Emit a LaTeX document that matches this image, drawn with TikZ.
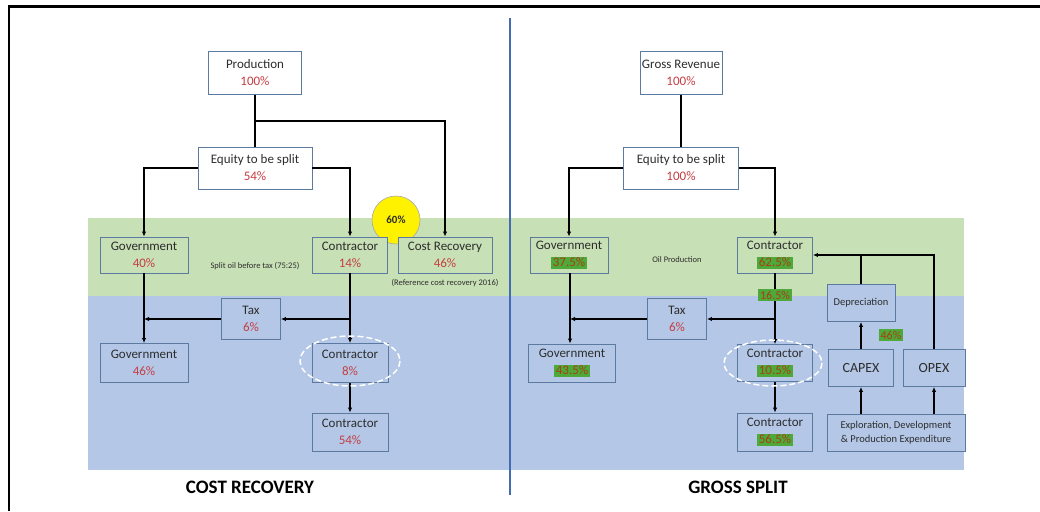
\documentclass[tikz,border=0pt]{standalone}
\usepackage{fontspec}
\setmainfont{Carlito}
\usetikzlibrary{arrows.meta}
\definecolor{BandGreen}{RGB}{200,224,182}
\definecolor{BandBlue}{RGB}{180,199,231}
\definecolor{BoxLine}{RGB}{92,122,160}
\definecolor{PctRed}{RGB}{196,62,66}
\definecolor{HlGreen}{RGB}{78,168,58}
\definecolor{HlText}{RGB}{168,64,18}
\definecolor{Divider}{RGB}{68,108,180}
\definecolor{TextGray}{RGB}{45,45,45}
\newcommand{\Pct}[1]{\textcolor{PctRed}{#1}}
\newcommand{\HlPct}[1]{{\setlength{\fboxsep}{1.5pt}\colorbox{HlGreen}{\textcolor{HlText}{#1}}}}

\begin{document}
\begin{tikzpicture}[x=1pt,y=-1pt,
  box/.style={draw=BoxLine, line width=0.9pt, align=center, inner sep=1pt,
    text=TextGray, font=\fontsize{13}{17}\selectfont},
  topbox/.style={box, fill=white},
  gbox/.style={box, fill=BandGreen},
  bbox/.style={box, fill=BandBlue},
  note/.style={text=TextGray, font=\fontsize{8.5}{10}\selectfont},
  title/.style={text=black, font=\fontsize{19}{22}\selectfont\bfseries},
  hlval/.style={fill=HlGreen, text=HlText, inner sep=2pt, font=\fontsize{12}{14}\selectfont},
  line/.style={line width=1.2pt},
  link/.style={line, -{Latex[length=5pt,width=4.5pt]}}]
  \useasboundingbox (0,0) rectangle (1040,511);
  % bands
  \fill [BandGreen] (88,218) rectangle (964,296);
  \fill [BandBlue] (88,296) rectangle (964,470);
  % frame and divider
  \draw [line width=2.5pt] (9,511) -- (9,6.5) -- (1040,6.5);
  \draw [Divider, line width=1.6pt] (510,18) -- (510,495);
  % 60% mark
  \filldraw [fill=yellow, draw=gray!70, line width=0.6pt] (396,220) circle(24);
  \node [font=\fontsize{11}{13}\selectfont\bfseries, text=TextGray] (markL) at (396,220) {60\%};
  %
  % cost recovery
  \node [topbox, minimum width=93, minimum height=43] (prodL) at (255,73) {Production\\\Pct{100\%}};
  \node [topbox, minimum width=114, minimum height=42] (eqL) at (255,168) {Equity to be split\\\Pct{54\%}};
  \node [gbox, minimum width=88, minimum height=36] (govL1) at (144,255) {Government\\\Pct{40\%}};
  \node [gbox, minimum width=75, minimum height=36] (conL1) at (350,255) {Contractor\\\Pct{14\%}};
  \node [gbox, minimum width=94, minimum height=36] (crL) at (445,255) {Cost Recovery\\\Pct{46\%}};
  \node [bbox, minimum width=59, minimum height=41] (taxL) at (251,319) {Tax\\\Pct{6\%}};
  \node [bbox, minimum width=88, minimum height=39] (govL2) at (144,363) {Government\\\Pct{46\%}};
  \node [bbox, minimum width=76, minimum height=39] (conL2) at (350,363) {Contractor\\\Pct{8\%}};
  \node [bbox, minimum width=76, minimum height=38] (conL3) at (350,432) {Contractor\\\Pct{54\%}};
  \node [note] (splitL) at (255,266) {Split oil before tax (75:25)};
  \node [note] (refL) at (445,283) {(Reference cost recovery 2016)};
  \node [title] (titleL) at (250,487) {COST RECOVERY};
  \coordinate (jL) at (255,121);
  \coordinate (tL) at (350,319);
  \coordinate (tgL) at (144,319);
  \draw [line] (prodL.south) -- (eqL.north);
  \draw [link] (jL) -| (crL.north);
  \draw [link] (eqL.west) -| (govL1.north);
  \draw [link] (eqL.east) -| (conL1.north);
  \draw [link] (govL1) -- (govL2);
  \draw [link] (conL1) -- (conL2);
  \draw [link] (conL2) -- (conL3);
  \draw [link] (tL) -- (taxL.east);
  \draw [link] (taxL.west) -- (tgL);
  \draw [white, dashed, dash pattern=on 6pt off 3pt, line width=1.5pt] (350,361) ellipse [x radius=50, y radius=25];
  %
  % gross split
  \node [topbox, minimum width=82, minimum height=43] (grossR) at (681,73) {Gross Revenue\\\Pct{100\%}};
  \node [topbox, minimum width=115, minimum height=42] (eqR) at (681,168) {Equity to be split\\\Pct{100\%}};
  \node [gbox, minimum width=78, minimum height=36] (govR1) at (569,255) {Government\\\HlPct{37.5\%}};
  \node [gbox, minimum width=75, minimum height=36] (conR1) at (775,255) {Contractor\\\HlPct{62.5\%}};
  \node [bbox, minimum width=59, minimum height=41] (taxR) at (677,319) {Tax\\\Pct{6\%}};
  \node [bbox, minimum width=87, minimum height=38] (govR2) at (572,363) {Government\\\HlPct{43.5\%}};
  \node [bbox, minimum width=75, minimum height=37] (conR2) at (775,363) {Contractor\\\HlPct{10.5\%}};
  \node [bbox, minimum width=75, minimum height=38] (conR3) at (775,432) {Contractor\\\HlPct{56.5\%}};
  \node [bbox, minimum width=68, minimum height=37, font=\fontsize{10.5}{13}\selectfont] (depR) at (861,303) {Depreciation};
  \node [bbox, minimum width=65, minimum height=37, font=\fontsize{14}{17}\selectfont] (capexR) at (861,368) {CAPEX};
  \node [bbox, minimum width=62, minimum height=37, font=\fontsize{14}{17}\selectfont] (opexR) at (934,368) {OPEX};
  \node [bbox, minimum width=138, minimum height=37, font=\fontsize{10.5}{14}\selectfont] (explR) at (896,433) {Exploration, Development\\\& Production Expenditure};
  \node [note] (oilR) at (677,260) {Oil Production};
  \node [title] (titleR) at (738,487) {GROSS SPLIT};
  \coordinate (tR) at (775,319);
  \coordinate (tgR) at (570,319);
  \draw [line] (grossR.south) -- (eqR.north);
  \draw [link] (eqR.west) -| (govR1.north);
  \draw [link] (eqR.east) -| (conR1.north);
  \draw [link] (govR1.south -| tgR) -- (govR2.north -| tgR);
  \draw [link] (conR1) -- (conR2);
  \draw [link] (conR2) -- (conR3);
  \draw [link] (tR) -- (taxR.east);
  \draw [link] (taxR.west) -- (tgR);
  \draw [link] (capexR) -- (depR);
  \draw [link] (explR.north -| capexR) -- (capexR);
  \draw [link] (explR.north -| opexR) -- (opexR);
  \draw [line] (depR.north) -- (depR.north |- conR1.east);
  \draw [link] (opexR.north) |- (conR1.east);
  \draw [white, dashed, dash pattern=on 6pt off 3pt, line width=1.5pt] (773,363) ellipse [x radius=49, y radius=23];
  % values
  \node [hlval] (midR) at (775,295) {16.5\%};
  \node [hlval] (deprate) at (891,335) {46\%};
\end{tikzpicture}
\end{document}
